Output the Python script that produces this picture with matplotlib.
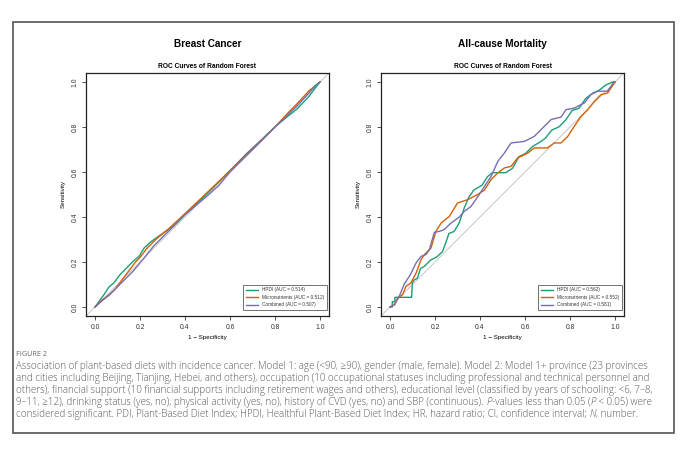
import matplotlib
matplotlib.use("Agg")
import matplotlib.pyplot as plt
from matplotlib.patches import Rectangle

# ---------------- data ----------------
series_names = ["HPDI", "Micronutrients", "Combined"]
colors = ["#1B9E77", "#D95F02", "#7570B3"]

bc_auc = [0.514, 0.512, 0.507]
bc_hpdi_fpr = [0, 0.018, 0.04, 0.062, 0.084, 0.107, 0.136, 0.166, 0.196, 0.218, 0.247, 0.292, 0.351, 0.41, 0.484, 0.559, 0.618, 0.677, 0.736, 0.796, 0.85, 0.9, 0.95, 0.98, 1.0]
bc_hpdi_tpr = [0, 0.025, 0.055, 0.089, 0.107, 0.139, 0.169, 0.2, 0.225, 0.262, 0.289, 0.321, 0.361, 0.421, 0.49, 0.565, 0.625, 0.685, 0.74, 0.797, 0.842, 0.882, 0.935, 0.975, 1.0]
bc_micro_fpr = [0, 0.03, 0.06, 0.09, 0.12, 0.15, 0.18, 0.2, 0.23, 0.27, 0.33, 0.4, 0.5, 0.6, 0.7, 0.8, 0.86, 0.9, 0.95, 1.0]
bc_micro_tpr = [0, 0.03, 0.05, 0.08, 0.12, 0.16, 0.2, 0.22, 0.26, 0.3, 0.35, 0.415, 0.51, 0.605, 0.7, 0.8, 0.865, 0.905, 0.96, 1.0]
bc_comb_fpr = [0, 0.04, 0.08, 0.12, 0.17, 0.22, 0.26, 0.3, 0.4, 0.5, 0.55, 0.6, 0.7, 0.8, 0.9, 0.95, 0.98, 1.0]
bc_comb_tpr = [0, 0.035, 0.07, 0.11, 0.16, 0.22, 0.27, 0.31, 0.41, 0.495, 0.54, 0.6, 0.7, 0.8, 0.895, 0.95, 0.985, 1.0]

ac_auc = [0.562, 0.552, 0.581]
ac_hpdi_fpr = [0, 0.01, 0.01, 0.022, 0.022, 0.096, 0.099, 0.107, 0.121, 0.136, 0.151, 0.166, 0.181, 0.21, 0.233, 0.247, 0.262, 0.284, 0.307, 0.33, 0.351, 0.373, 0.41, 0.433, 0.455, 0.514, 0.544, 0.573, 0.603, 0.633, 0.67, 0.69, 0.72, 0.75, 0.78, 0.81, 0.84, 0.87, 0.9, 0.93, 0.96, 0.99, 1.0]
ac_hpdi_tpr = [0, 0.0, 0.024, 0.024, 0.043, 0.043, 0.105, 0.12, 0.127, 0.172, 0.179, 0.194, 0.209, 0.224, 0.246, 0.283, 0.327, 0.335, 0.372, 0.44, 0.49, 0.52, 0.542, 0.579, 0.597, 0.597, 0.616, 0.668, 0.683, 0.713, 0.735, 0.75, 0.787, 0.80, 0.83, 0.874, 0.883, 0.927, 0.95, 0.964, 0.987, 1.0, 1.0]
ac_micro_fpr = [0, 0.02, 0.034, 0.056, 0.071, 0.093, 0.116, 0.138, 0.153, 0.182, 0.204, 0.227, 0.264, 0.30, 0.345, 0.39, 0.42, 0.449, 0.479, 0.508, 0.538, 0.567, 0.612, 0.641, 0.70, 0.73, 0.76, 0.79, 0.819, 0.849, 0.879, 0.908, 0.938, 0.967, 0.982, 1.0]
ac_micro_tpr = [0, 0.01, 0.04, 0.055, 0.092, 0.107, 0.151, 0.21, 0.233, 0.262, 0.336, 0.373, 0.403, 0.462, 0.477, 0.50, 0.52, 0.566, 0.596, 0.618, 0.625, 0.662, 0.684, 0.707, 0.707, 0.729, 0.729, 0.758, 0.803, 0.847, 0.877, 0.914, 0.944, 0.951, 0.973, 1.0]
ac_comb_fpr = [0, 0.02, 0.041, 0.064, 0.086, 0.10, 0.116, 0.138, 0.16, 0.175, 0.197, 0.219, 0.241, 0.271, 0.308, 0.33, 0.36, 0.39, 0.42, 0.449, 0.479, 0.508, 0.538, 0.597, 0.641, 0.686, 0.716, 0.76, 0.782, 0.819, 0.864, 0.893, 0.923, 0.967, 0.982, 0.994, 1.0]
ac_comb_tpr = [0, 0.01, 0.047, 0.104, 0.136, 0.163, 0.196, 0.225, 0.233, 0.255, 0.332, 0.336, 0.344, 0.373, 0.40, 0.425, 0.447, 0.49, 0.536, 0.58, 0.647, 0.684, 0.729, 0.736, 0.758, 0.803, 0.833, 0.844, 0.877, 0.884, 0.907, 0.944, 0.959, 0.959, 0.98, 1.0, 1.0]

ticks = [0.0, 0.2, 0.4, 0.6, 0.8, 1.0]
tick_labels = ["0.0", "0.2", "0.4", "0.6", "0.8", "1.0"]

panel_titles = ["Breast Cancer", "All-cause Mortality"]
sub_title = "ROC Curves of Random Forest"

caption_head = "FIGURE 2"
# segments between '*' are italic
caption_lines = [
    "Association of plant-based diets with incidence cancer. Model 1: age (<90, \u226590), gender (male, female). Model 2: Model 1+ province (23 provinces",
    "and cities including Beijing, Tianjing, Hebei, and others), occupation (10 occupational statuses including professional and technical personnel and",
    "others), financial support (10 financial supports including retirement wages and others), educational level (classified by years of schooling: <6, 7\u20138,",
    "9\u201311, \u226512), drinking status (yes, no), physical activity (yes, no), history of CVD (yes, no) and SBP (continuous). *P*-values less than 0.05 (*P* < 0.05) were",
    "considered significant. PDI, Plant-Based Diet Index; HPDI, Healthful Plant-Based Diet Index; HR, hazard ratio; CI, confidence interval; *N*, number.",
]

# ---------------- figure ----------------
W, H = 682, 454
fig = plt.figure(figsize=(W / 100, H / 100), dpi=100)
fig.patch.set_facecolor("white")

def fx(px):
    return px / W

def fy(py):
    return 1 - py / H

# outer frame
fig.add_artist(Rectangle((fx(13), fy(433)), fx(674) - fx(13), fy(22) - fy(433),
                         transform=fig.transFigure, fill=False, edgecolor="#555555", linewidth=1.2))

base_font = ["Liberation Sans", "DejaVu Sans"]

panels = [
    (86, bc_auc, [(bc_hpdi_fpr, bc_hpdi_tpr), (bc_micro_fpr, bc_micro_tpr), (bc_comb_fpr, bc_comb_tpr)]),
    (381, ac_auc, [(ac_hpdi_fpr, ac_hpdi_tpr), (ac_micro_fpr, ac_micro_tpr), (ac_comb_fpr, ac_comb_tpr)]),
]

for i, (left_px, aucs, curves) in enumerate(panels):
    ax = fig.add_axes([fx(left_px), fy(316), 243 / W, 243 / H])
    ax.plot([-0.04, 1.04], [-0.04, 1.04], color="#c8c8c8", linewidth=0.7, zorder=1)
    for (xs, ys), c, name, auc in zip(curves, colors, series_names, aucs):
        ax.plot(xs, ys, color=c, linewidth=1.0, label=f"{name} (AUC = {auc:.3f})", zorder=2)
    ax.set_xlim(-0.04, 1.04)
    ax.set_ylim(-0.04, 1.04)
    ax.set_xticks(ticks)
    ax.set_xticklabels(tick_labels, fontsize=4.9, family=base_font, color="#333333")
    ax.set_yticks(ticks)
    ax.set_yticklabels(tick_labels, fontsize=4.9, family=base_font, color="#333333",
                       rotation=90, va="center")
    ax.tick_params(length=3, width=0.6, pad=2.5, color="#333333")
    for s in ax.spines.values():
        s.set_linewidth(0.9)
        s.set_color("#222222")
    ax.set_xlabel("1 \u2212 Specificity", fontsize=4.5, family=base_font, labelpad=3)
    ax.set_ylabel("Sensitivity", fontsize=4.5, family=base_font, labelpad=4)
    ax.set_title(sub_title, fontsize=4.8, fontweight="bold", family=base_font, pad=3.5)
    leg = ax.legend(loc="lower right", bbox_to_anchor=(1.0, 0.015),
                    prop={"family": base_font, "size": 3.4},
                    frameon=True, fancybox=False, edgecolor="#333333",
                    handlelength=2.6, borderpad=0.6, labelspacing=0.5, handletextpad=0.8)
    leg.get_frame().set_linewidth(0.6)
    for t in leg.get_texts():
        t.set_color("#333333")
    cx = left_px + 243 / 2
    fig.text(fx(cx), fy(44), panel_titles[i], fontsize=7.2, fontweight="bold",
             family=base_font, ha="center", va="center")

cap_font = ["Open Sans", "DejaVu Sans"]
fig.text(fx(16), fy(354), caption_head, fontsize=5.2, family=cap_font, color="#666666",
         ha="left", va="center")

renderer = fig.canvas.get_renderer()
for k, line in enumerate(caption_lines):
    y = fy(369.0 + 12.0 * k)
    x_px = 16.0
    for j, seg in enumerate(line.split("*")):
        if not seg:
            continue
        style = "italic" if j % 2 == 1 else "normal"
        t = fig.text(fx(x_px), y, seg, fontsize=7.05, family=cap_font, style=style,
                     fontweight="light", color="#5a5a5a", ha="left", va="baseline")
        ext = t.get_window_extent(renderer=renderer)
        x_px = ext.x1 + 0.2

fig.savefig("out.png", dpi=100)
